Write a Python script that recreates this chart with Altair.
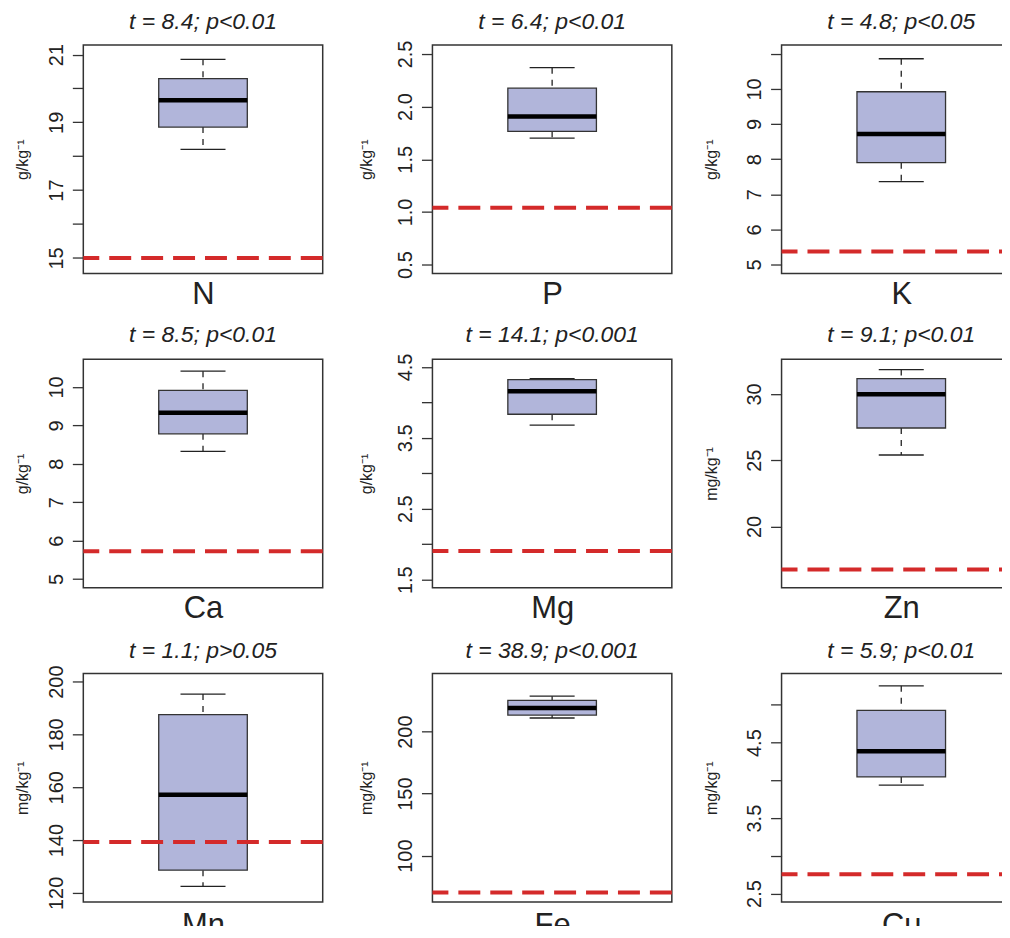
import altair as alt
import pandas as pd

# ---------------- data ----------------
elements = ["N", "P", "K", "Ca", "Mg", "Zn", "Mn", "Fe", "Cu"]
units = ["g/kg⁻¹", "g/kg⁻¹", "g/kg⁻¹", "g/kg⁻¹", "g/kg⁻¹",
         "mg/kg⁻¹", "mg/kg⁻¹", "mg/kg⁻¹", "mg/kg⁻¹"]
t_values = ["8.4", "6.4", "4.8", "8.5", "14.1", "9.1", "1.1", "38.9", "5.9"]
p_values = ["p<0.01", "p<0.01", "p<0.05", "p<0.01", "p<0.001",
            "p<0.01", "p>0.05", "p<0.001", "p<0.01"]

whisker_low = [18.20, 1.70, 7.36, 8.32, 3.68, 25.39, 122.5, 211.0, 3.936]
q1 = [18.86, 1.765, 7.90, 8.78, 3.833, 27.43, 128.6, 213.4, 4.046]
median = [19.65, 1.907, 8.72, 9.33, 4.157, 29.98, 157.2, 219.0, 4.385]
q3 = [20.29, 2.175, 9.92, 9.91, 4.32, 31.16, 187.5, 225.2, 4.927]
whisker_high = [20.86, 2.37, 10.86, 10.41, 4.335, 31.84, 195.3, 228.6, 5.253]
reference = [15.0, 1.04, 5.37, 5.72, 1.905, 16.75, 139.3, 70.2, 2.756]

y_min = [14.54, 0.415, 4.745, 4.774, 1.387, 15.37, 116.6, 62.7, 2.39]
y_max = [21.28, 2.585, 11.25, 10.72, 4.608, 32.62, 203.1, 246.9, 5.416]

tick_values = [
    [15, 16, 17, 18, 19, 20, 21],
    [0.5, 1.0, 1.5, 2.0, 2.5],
    [5, 6, 7, 8, 9, 10, 11],
    [5, 6, 7, 8, 9, 10],
    [1.5, 2.0, 2.5, 3.0, 3.5, 4.0, 4.5],
    [20, 25, 30],
    [120, 140, 160, 180, 200],
    [100, 150, 200],
    [2.5, 3.0, 3.5, 4.0, 4.5, 5.0],
]
tick_labels = [
    [15, 17, 19, 21],
    [0.5, 1.0, 1.5, 2.0, 2.5],
    [5, 6, 7, 8, 9, 10],
    [5, 6, 7, 8, 9, 10],
    [1.5, 2.5, 3.5, 4.5],
    [20, 25, 30],
    [120, 140, 160, 180, 200],
    [100, 150, 200],
    [2.5, 3.5, 4.5],
]
label_formats = ["d", ".1f", "d", "d", ".1f", "d", "d", "d", ".1f"]

# ---------------- layout / style constants ----------------
PANEL_W, PANEL_H = 240, 229
BOX_L, BOX_R = 0.315, 0.685
CAP_L, CAP_R = 0.406, 0.594
MID = 0.5

FONT = "Liberation Sans"
INK = "#222222"
FRAME = "#333333"
BOX_FILL = "#B1B5DA"
RED = "#D42A2A"

col_title_pad = [15.5, 21.5, 25.5]
row_xtitle_pad = [6, 6, 9]
title_offsets = [-8.4, -11.7, -6.8, -5.8, -12.0, -5.8, -16.0, -7.5, -7.5]


def panel(i):
    col, row = i % 3, i // 3
    df = pd.DataFrame({
        "lo": [whisker_low[i]], "q1": [q1[i]], "med": [median[i]],
        "q3": [q3[i]], "hi": [whisker_high[i]], "ref": [reference[i]],
    })
    yscale = alt.Scale(domain=[y_min[i], y_max[i]], nice=False, zero=False)
    yaxis = alt.Axis(
        values=tick_values[i], format=label_formats[i],
        labelExpr=f"indexof({tick_labels[i]}, datum.value) >= 0 ? datum.label : ''",
        title=units[i], titlePadding=col_title_pad[col],
        grid=False, domain=False, labelOverlap=False,
    )
    xscale = alt.Scale(domain=[0, 1], nice=False, zero=False)
    xaxis = alt.Axis(title=elements[i], ticks=False, labels=False,
                     domain=False, grid=False,
                     titlePadding=row_xtitle_pad[row])

    def X(v):
        return alt.XDatum(v, type="quantitative", scale=xscale, axis=xaxis)

    def Y(f):
        return alt.Y(f, type="quantitative", scale=yscale, axis=yaxis)

    base = alt.Chart(df)
    whisk_hi = base.mark_rule(color=INK, strokeWidth=1.3, strokeDash=[6, 6]).encode(
        x=X(MID), y=Y("hi"), y2="q3")
    whisk_lo = base.mark_rule(color=INK, strokeWidth=1.3, strokeDash=[6, 6]).encode(
        x=X(MID), y=Y("q1"), y2="lo")
    cap_hi = base.mark_rule(color=INK, strokeWidth=1.3).encode(
        x=X(CAP_L), x2=alt.X2Datum(CAP_R), y=Y("hi"))
    cap_lo = base.mark_rule(color=INK, strokeWidth=1.3).encode(
        x=X(CAP_L), x2=alt.X2Datum(CAP_R), y=Y("lo"))
    box = base.mark_rect(fill=BOX_FILL, stroke=FRAME, strokeWidth=1.3).encode(
        x=X(BOX_L), x2=alt.X2Datum(BOX_R), y=Y("q1"), y2="q3")
    med = base.mark_rule(color="#000000", strokeWidth=4.5).encode(
        x=X(BOX_L), x2=alt.X2Datum(BOX_R), y=Y("med"))
    red = base.mark_rule(color=RED, strokeWidth=4, strokeDash=[22, 10]).encode(
        y=Y("ref"))

    return alt.layer(whisk_hi, whisk_lo, cap_hi, cap_lo, box, med, red).properties(
        width=PANEL_W, height=PANEL_H,
        title=alt.TitleParams(
            text=f"t = {t_values[i]}; {p_values[i]}",
            font=FONT, fontSize=23, fontStyle="italic", fontWeight="normal",
            color=INK, anchor="middle", frame="group", baseline="alphabetic",
            offset=title_offsets[i],
        ),
    )


chart = alt.concat(
    *[panel(i) for i in range(len(elements))],
    columns=3,
    spacing={"row": 86, "column": 110},
    bounds="flush",
).properties(
    padding={"left": 5.5, "top": 1, "right": -22, "bottom": -17},
    background="white",
).configure_view(
    stroke=FRAME, strokeWidth=1.5,
).configure_axis(
    labelFont=FONT, labelFontSize=20, labelColor=INK,
    titleFont=FONT, titleColor=INK, titleFontWeight="normal",
    tickColor=FRAME, tickWidth=1.3, tickSize=11,
).configure_axisY(
    labelAngle=270, labelAlign="center", labelBaseline="bottom",
    labelPadding=6, titleFontSize=16, titleAngle=270,
).configure_axisX(
    titleFontSize=31,
)

chart.save("out.html", embed_options={"renderer": "svg", "actions": False})
